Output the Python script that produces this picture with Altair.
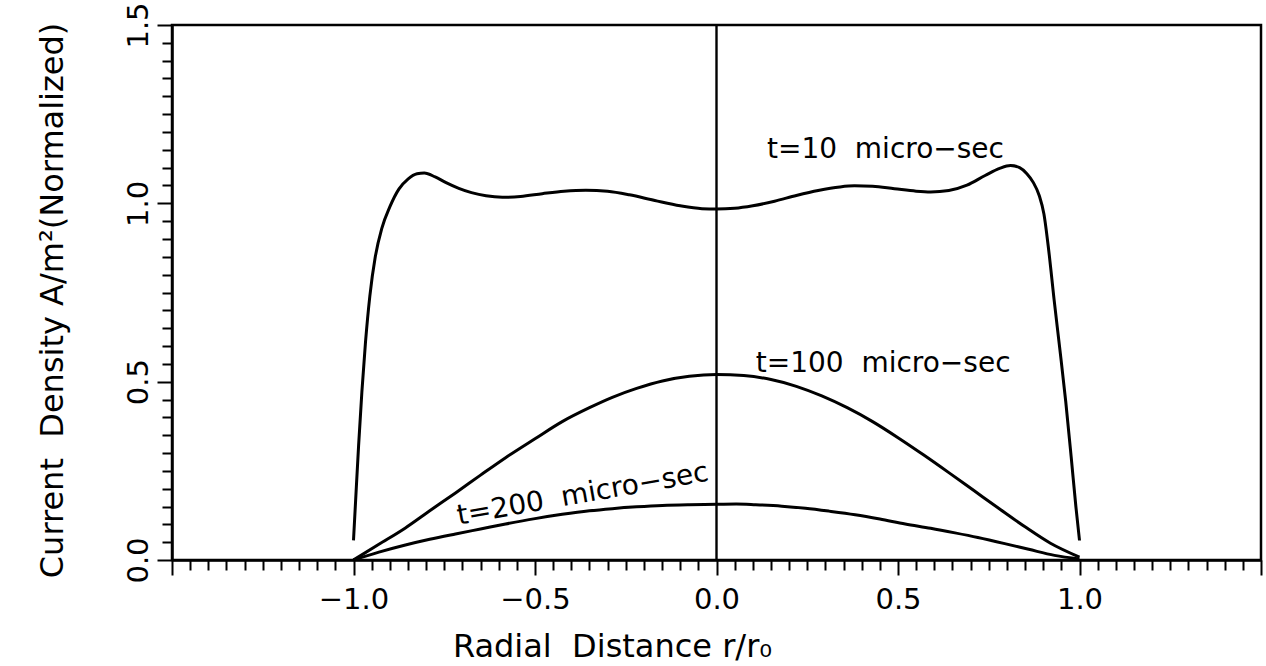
import altair as alt
import pandas as pd

# ---- data ----
x10 = [-1.0, -0.994, -0.986, -0.977, -0.967, -0.955, -0.94, -0.922, -0.9, -0.875, -0.85, -0.825,
       -0.805, -0.775, -0.745, -0.71, -0.675, -0.635, -0.59, -0.54, -0.48, -0.42, -0.36, -0.30,
       -0.24, -0.17, -0.10, -0.04, 0.0, 0.05, 0.10, 0.16, 0.22, 0.28, 0.34, 0.38, 0.43, 0.49,
       0.55, 0.59, 0.64, 0.69, 0.74, 0.78, 0.81, 0.835, 0.855, 0.873, 0.889, 0.902, 0.915, 0.93,
       0.946, 0.962, 0.977, 0.99, 1.0]
y10 = [0.055, 0.17, 0.32, 0.47, 0.61, 0.74, 0.85, 0.93, 0.99, 1.04, 1.068, 1.083,
       1.085, 1.074, 1.058, 1.042, 1.030, 1.021, 1.017, 1.019, 1.027, 1.034, 1.037, 1.034,
       1.024, 1.008, 0.993, 0.985, 0.984, 0.986, 0.993, 1.006, 1.022, 1.036, 1.046, 1.049, 1.048, 1.041,
       1.034, 1.032, 1.036, 1.051, 1.078, 1.098, 1.106, 1.100, 1.083, 1.058, 1.022, 0.97, 0.87, 0.73,
       0.59, 0.445, 0.29, 0.15, 0.055]

x100 = [-1.0, -0.93, -0.857, -0.79, -0.719, -0.65, -0.581, -0.5, -0.425, -0.35, -0.287, -0.22,
        -0.149, -0.075, 0.0, 0.075, 0.15, 0.22, 0.29, 0.36, 0.43, 0.5, 0.57, 0.64, 0.71,
        0.78, 0.85, 0.92, 1.0]
y100 = [0.0, 0.044, 0.09, 0.138, 0.188, 0.238, 0.287, 0.340, 0.388, 0.427, 0.456, 0.481,
        0.502, 0.515, 0.52, 0.517, 0.506, 0.487, 0.460, 0.427, 0.388, 0.343, 0.295, 0.245, 0.194,
        0.143, 0.093, 0.047, 0.008]

x200 = [-1.0, -0.93, -0.857, -0.79, -0.719, -0.65, -0.581, -0.5, -0.425, -0.35, -0.287, -0.22,
        -0.149, -0.075, 0.0, 0.054, 0.108, 0.18, 0.245, 0.31, 0.382, 0.45, 0.52, 0.59, 0.657,
        0.72, 0.794, 0.86, 0.931, 1.0]
y200 = [0.0, 0.022, 0.042, 0.058, 0.073, 0.087, 0.101, 0.116, 0.128, 0.138, 0.144, 0.149,
        0.153, 0.155, 0.156, 0.157, 0.155, 0.151, 0.145, 0.137, 0.127, 0.115, 0.101, 0.089, 0.076,
        0.063, 0.046, 0.030, 0.013, 0.003]

label_text = ["t=10\u00a0\u00a0micro\u2212sec", "t=100\u00a0\u00a0micro\u2212sec"]
label_x = [0.139, 0.108]
label_y = [1.126, 0.528]

rot_text = ["t=200\u00a0\u00a0micro\u2212sec"]
rot_x = [-0.71]
rot_y = [0.099]

zero_x = [0.0]
zero_y = [0.0]
zero_y2 = [1.5]

x_ticks = [round(-1.5 + 0.05 * i, 2) for i in range(61)]
y_ticks = [round(0.05 * i, 2) for i in range(31)]

# ---- tables ----
curves = pd.DataFrame({
    "x": x10 + x100 + x200,
    "y": y10 + y100 + y200,
    "series": ["t10"] * len(x10) + ["t100"] * len(x100) + ["t200"] * len(x200),
})
labels = pd.DataFrame({"x": label_x, "y": label_y, "text": label_text})
rot_labels = pd.DataFrame({"x": rot_x, "y": rot_y, "text": rot_text})
zero_line = pd.DataFrame({"x": zero_x, "y": zero_y, "y2": zero_y2})

FONT = "DejaVu Sans"
W, H = 1089, 535
major = "abs(datum.value*2 - round(datum.value*2)) < 0.001"

xscale = alt.Scale(domain=[-1.5, 1.5], nice=False, zero=False)
yscale = alt.Scale(domain=[0, 1.5], nice=False)

xaxis = alt.Axis(
    values=x_ticks,
    title="Radial\u00a0 Distance r/r\u2080",
    labelExpr=f"({major}) && abs(datum.value) < 1.2 ? format(datum.value, '.1f') : ''",
    tickSize={"condition": {"test": major, "value": 15}, "value": 10},
    tickWidth=2, tickColor="black",
    domainColor="black", domainWidth=2.5,
    labelFont=FONT, labelFontSize=29, labelColor="black",
    labelBaseline="alphabetic", labelPadding=33,
    labelOverlap=False, labelFlush=False,
    titleFont=FONT, titleFontSize=32, titleFontWeight="normal", titleColor="black",
    titleX=440, titleY=96, titleBaseline="alphabetic", titleAlign="center", titleAnchor="middle",
    grid=False,
)
yaxis = alt.Axis(
    values=y_ticks,
    title="Current\u00a0 Density A/m\u00b2(Normalized)",
    labelExpr=f"({major}) ? format(datum.value, '.1f') : ''",
    tickSize={"condition": {"test": major, "value": 15}, "value": 10},
    tickWidth=2, tickColor="black",
    domainColor="black", domainWidth=2.5,
    labelFont=FONT, labelFontSize=29, labelColor="black",
    labelAngle=270, labelAlign="center", labelBaseline="alphabetic", labelPadding=10,
    labelOverlap=False, labelFlush=False,
    titleFont=FONT, titleFontSize=32, titleFontWeight="normal", titleColor="black",
    titleAngle=270, titleX=-120, titleY=275, titleBaseline="middle", titleAlign="center",
    grid=False,
)

X = alt.X("x:Q", scale=xscale, axis=xaxis)
Y = alt.Y("y:Q", scale=yscale, axis=yaxis)

rule = alt.Chart(zero_line).mark_rule(color="black", strokeWidth=2.4).encode(
    x=X, y=Y, y2=alt.Y2("y2:Q")
)
lines = alt.Chart(curves).mark_line(color="black", strokeWidth=3, interpolate="monotone").encode(
    x=X, y=Y, detail="series:N"
)
text1 = alt.Chart(labels).mark_text(
    align="left", baseline="alphabetic", font=FONT, fontSize=28, color="black"
).encode(x=X, y=Y, text="text:N")
text2 = alt.Chart(rot_labels).mark_text(
    align="left", baseline="alphabetic", font=FONT, fontSize=28, color="black", angle=350
).encode(x=X, y=Y, text="text:N")

chart = alt.layer(rule, lines, text1, text2).properties(
    width=W, height=H,
    autosize=alt.AutoSizeParams(type="none"),
    padding={"left": 172, "top": 25, "right": 5, "bottom": 106},
    background="white",
).configure_view(stroke="black", strokeWidth=2.5)

chart.save("out.html", embed_options={"renderer": "svg", "actions": False})
